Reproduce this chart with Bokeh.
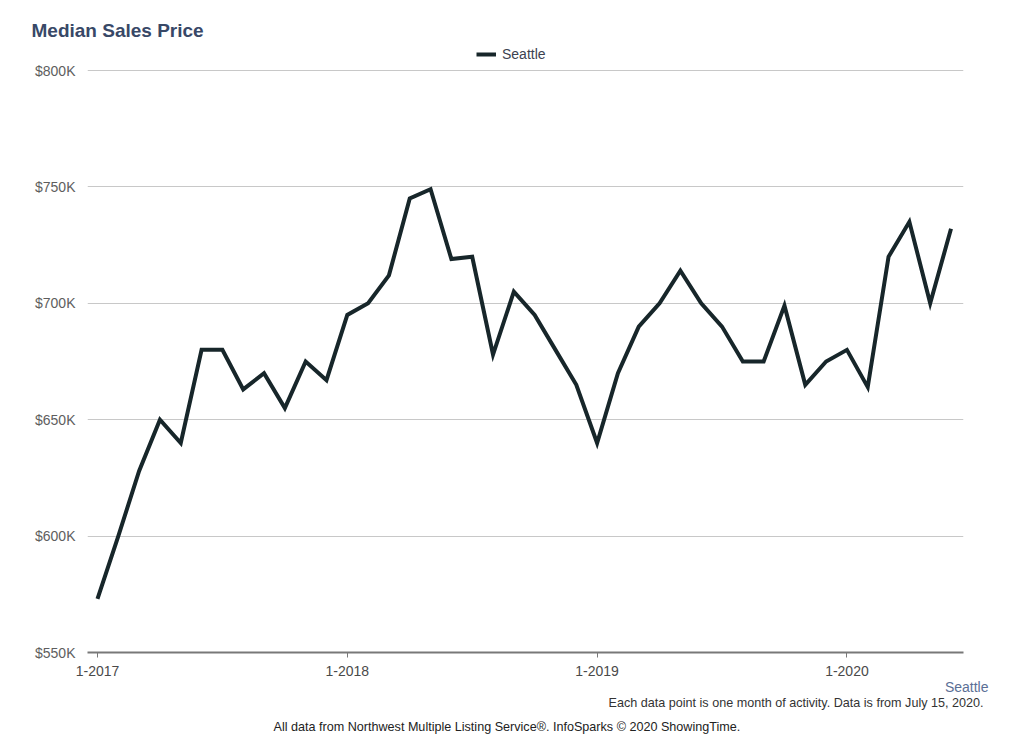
from bokeh.plotting import figure
from bokeh.models import (Range1d, FixedTicker, Title, Legend, LegendItem,
                          ColumnDataSource)
from bokeh.embed import file_html
from bokeh.resources import INLINE

# ---- data -------------------------------------------------------------
months = list(range(42))  # Jan 2017 .. Jun 2020
seattle = [573, 600, 628, 650, 640, 680, 680, 663, 670, 655, 675, 667,
           695, 700, 712, 745, 749, 719, 720, 678, 705, 695, 680, 665,
           640, 670, 690, 700, 714, 700, 690, 675, 675, 699, 665, 675,
           680, 664, 720, 735, 700, 732]
x_ticks = [0, 12, 24, 36]
x_tick_labels = ["1-2017", "1-2018", "1-2019", "1-2020"]
y_ticks = [550, 600, 650, 700, 750, 800]
y_tick_labels = ["$550K", "$600K", "$650K", "$700K", "$750K", "$800K"]

FONT = "Liberation Sans"
W, H = 1024, 742
FL, FR, FT, FB = 87, 963, 40, 652
XS, XE = -0.48, 41.6
YS = 550
YE = 800 + 30 * 250 / 582  # a little headroom above the $800K line for the legend

p = figure(width=W, height=H, output_backend="svg", toolbar_location=None,
           x_range=Range1d(XS, XE), y_range=Range1d(YS, YE),
           min_border_left=FL, min_border_right=W - FR,
           min_border_top=FT, min_border_bottom=H - FB)
p.outline_line_color = None
p.background_fill_color = "white"
p.border_fill_color = "white"

src = ColumnDataSource(dict(x=months, y=seattle))
r = p.line("x", "y", source=src, line_color="#17262a", line_width=4,
           line_join="miter")

# axes
p.xaxis.ticker = FixedTicker(ticks=x_ticks)
p.xaxis.major_label_overrides = dict(zip(x_ticks, x_tick_labels))
p.xaxis.axis_line_color = "#787878"
p.xaxis.axis_line_width = 2
p.xaxis.major_tick_line_color = "#787878"
p.xaxis.major_tick_line_width = 1
p.xaxis.major_tick_in = 0
p.xaxis.major_tick_out = 5
p.xaxis.minor_tick_line_color = None
p.xaxis.major_label_text_font = FONT
p.xaxis.major_label_text_font_size = "14px"
p.xaxis.major_label_text_color = "#4a4a4a"
p.xaxis.major_label_standoff = 8

p.yaxis.ticker = FixedTicker(ticks=y_ticks)
p.yaxis.major_label_overrides = dict(zip(y_ticks, y_tick_labels))
p.yaxis.axis_line_color = None
p.yaxis.major_tick_line_color = None
p.yaxis.minor_tick_line_color = None
p.yaxis.major_label_text_font = FONT
p.yaxis.major_label_text_font_size = "14px"
p.yaxis.major_label_text_color = "#5e5e5e"
p.yaxis.major_label_standoff = 6

p.xgrid.grid_line_color = None
p.ygrid.ticker = FixedTicker(ticks=y_ticks)
p.ygrid.grid_line_color = "#c8c8c8"
p.ygrid.grid_line_width = 1

# legend inside the headroom at the top of the frame
legend = Legend(items=[LegendItem(label="Seattle", renderers=[r])],
                location=(476 - FL, FB - 62), orientation="horizontal",
                border_line_color=None, background_fill_alpha=0,
                label_text_font=FONT, label_text_font_size="14px",
                label_text_color="#3c4250", glyph_width=20, glyph_height=16,
                padding=0, margin=0, label_standoff=6, label_height=16)
p.add_layout(legend)

# title (above) and notes (below)
p.title = Title(text="Median Sales Price", align="left", offset=-56,
                text_font=FONT, text_font_size="19px", text_font_style="bold",
                text_color="#384867", standoff=-1)

p.add_layout(Title(text="Seattle", align="right", offset=-25,
                   text_font=FONT, text_font_size="14px",
                   text_font_style="normal", text_color="#5b6f96",
                   standoff=-3), "below")
p.add_layout(Title(text="Each data point is one month of activity. Data is from July 15, 2020.",
                   align="right", offset=-20, text_font=FONT,
                   text_font_size="12.6px", text_font_style="normal",
                   text_color="#333333", standoff=1), "below")
p.add_layout(Title(text="All data from Northwest Multiple Listing Service®. InfoSparks © 2020 ShowingTime.",
                   align="left", offset=273 - FL, text_font=FONT,
                   text_font_size="12.6px", text_font_style="normal",
                   text_color="#222222", standoff=15), "below")

open("out.html", "w").write(file_html(p, INLINE))
